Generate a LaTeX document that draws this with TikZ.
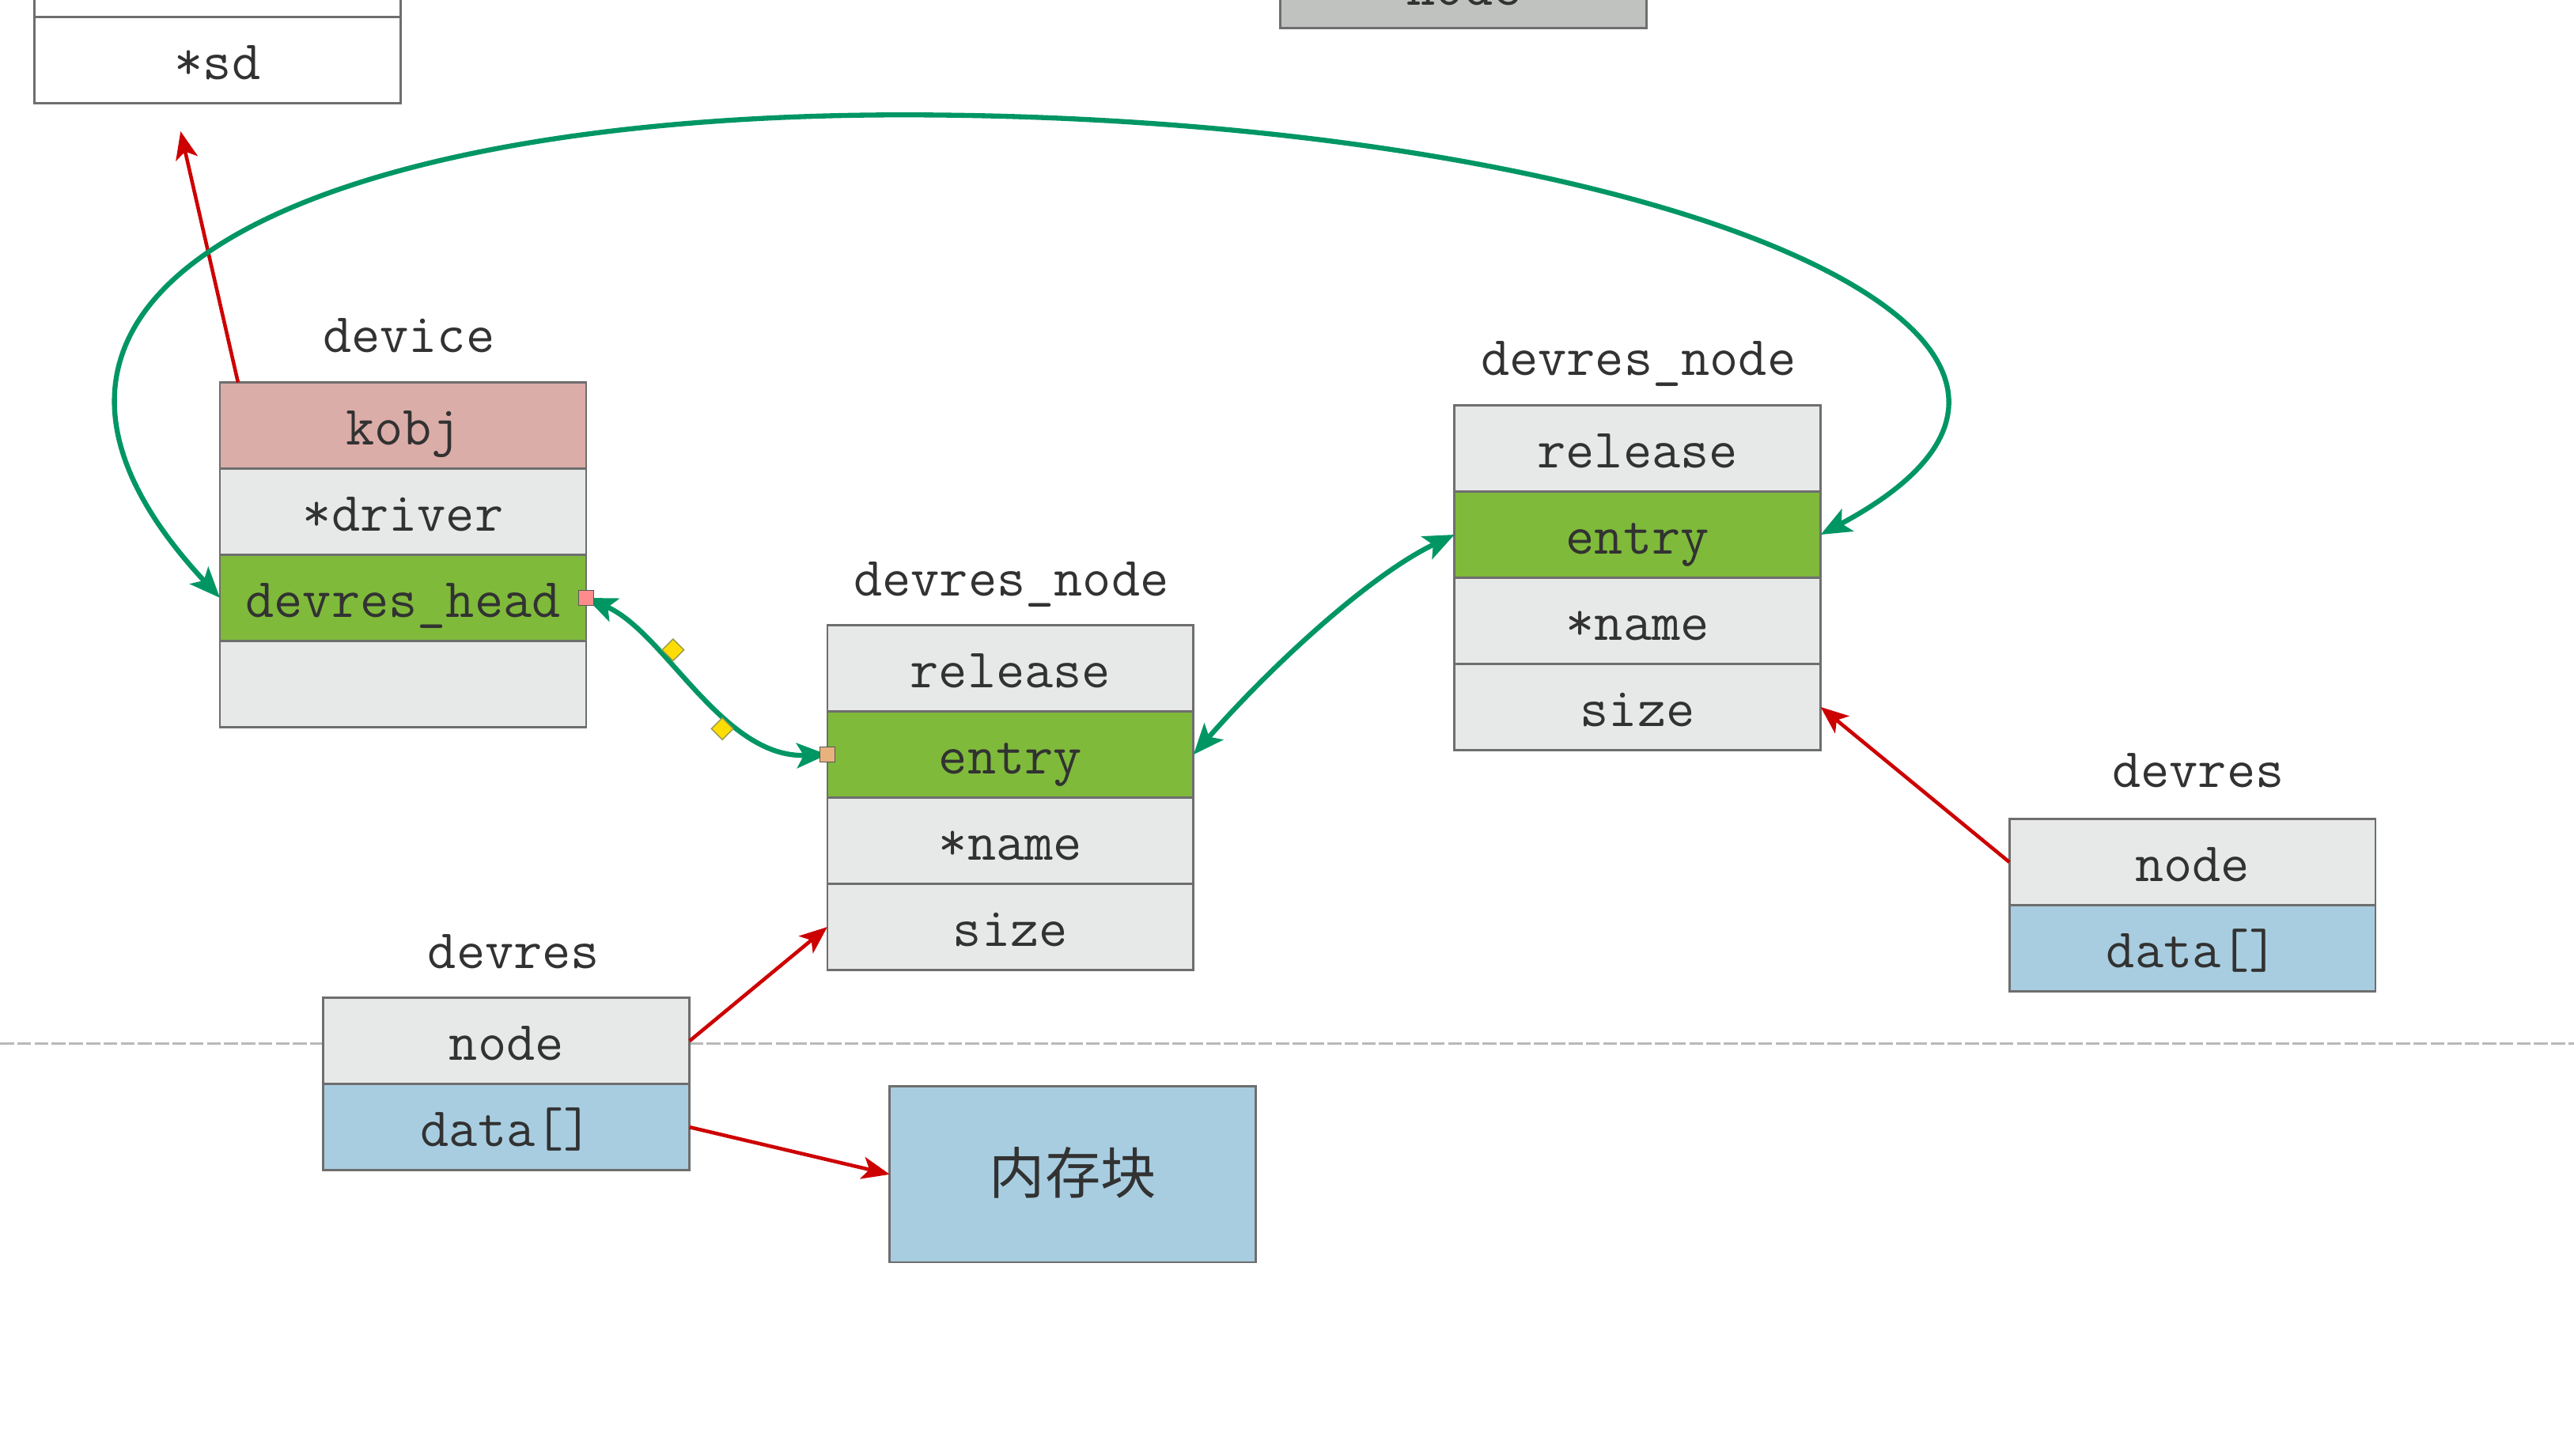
\documentclass[tikz,border=0pt]{standalone}
\usepackage{fontspec}
\newfontfamily\cjkfont{Noto Sans CJK SC}
\usetikzlibrary{arrows.meta,positioning,calc,shapes.geometric}
\definecolor{rowgray}{RGB}{231,232,232}
\definecolor{fldgreen}{RGB}{127,186,59}
\definecolor{fldpink}{RGB}{219,173,168}
\definecolor{fldblue}{RGB}{168,205,224}
\definecolor{bordc}{RGB}{110,110,110}
\definecolor{txtc}{RGB}{50,50,50}
\definecolor{arrgreen}{RGB}{0,150,100}
\definecolor{arrred}{RGB}{205,0,0}
\definecolor{modegray}{RGB}{192,194,191}
\definecolor{dashc}{RGB}{185,185,185}
\begin{document}
\begin{tikzpicture}[x=0.020753cm,y=-0.020753cm,
  fld/.style={draw=bordc, line width=0.8pt, minimum width=131.7pt, minimum height=31pt,
    inner sep=0pt, outer sep=0pt, font=\fontsize{20}{24}\selectfont\ttfamily, text=txtc,
    text height=14pt, text depth=0pt, fill=rowgray},
  lbl/.style={inner sep=0pt, font=\fontsize{20}{24}\selectfont\ttfamily, text=txtc,
    text height=14pt, text depth=0pt},
  redarr/.style={draw=arrred, line width=1.3pt, -{Stealth[length=10pt,width=8pt,inset=2.5pt]}},
  grnarr/.style={draw=arrgreen, line width=1.8pt, {Stealth[length=11pt,width=9pt,inset=2.5pt]}-{Stealth[length=11pt,width=9pt,inset=2.5pt]}},
  handle/.style={draw=bordc!80!black, line width=0.4pt, minimum size=5.5pt, inner sep=0pt},
  diam/.style={draw=bordc!70!yellow, fill=yellow!80!orange, line width=0.4pt, diamond, minimum size=8pt, inner sep=0pt}
]
\fill[white] (0,0) rectangle (1568,887);
\useasboundingbox (0,0) rectangle (1568,887);

% dashed separator
\draw[dashc, line width=0.8pt, dash pattern=on 5pt off 1.2pt] (0,636) -- (1568,636);

% top-left struct (cut off)
\node[fld, fill=white, anchor=north west] (sdtop) at (21,-42) {};
\node[fld, fill=white, below=0pt of sdtop] (sd) {*sd};

% top centre box (cut off)
\node[fld, fill=modegray, anchor=south west, minimum height=60pt] (mode) at (780,17) {};
\node[lbl, anchor=base] (modetxt) at (892,3) {node};

% device
\node[lbl] (devlbl) at (249,203) {device};
\node[fld, fill=fldpink, anchor=north west] (kobj) at (134,233) {kobj};
\node[fld, below=0pt of kobj] (drv) {*driver};
\node[fld, fill=fldgreen, below=0pt of drv] (dh) {devres\_head};
\node[fld, below=0pt of dh] (dempty) {};

% devres_node 1
\node[lbl] (dn1lbl) at (616,351) {devres\_node};
\node[fld, anchor=north west] (rel1) at (504,381) {release};
\node[fld, fill=fldgreen, below=0pt of rel1] (ent1) {entry};
\node[fld, below=0pt of ent1] (nam1) {*name};
\node[fld, below=0pt of nam1] (siz1) {size};

% devres_node 2
\node[lbl] (dn2lbl) at (998,217) {devres\_node};
\node[fld, anchor=north west] (rel2) at (886,247) {release};
\node[fld, fill=fldgreen, below=0pt of rel2] (ent2) {entry};
\node[fld, below=0pt of ent2] (nam2) {*name};
\node[fld, below=0pt of nam2] (siz2) {size};

% devres right
\node[lbl] (drlbl) at (1339,468) {devres};
\node[fld, anchor=north west] (rnode) at (1224,499) {node};
\node[fld, fill=fldblue, below=0pt of rnode] (rdata) {data[]};

% devres left
\node[lbl] (dllbl) at (313,578) {devres};
\node[fld, anchor=north west] (lnode) at (197,608) {node};
\node[fld, fill=fldblue, below=0pt of lnode] (ldata) {data[]};

% memory block
\node[fld, fill=fldblue, anchor=north west, minimum height=63.2pt, font=\fontsize{20}{24}\selectfont\cjkfont, text height=16pt, text depth=2pt] (mem) at (542,662) {内存块};

% red connectors
\coordinate (sdtip) at (110,80);
\draw[redarr] ($(kobj.north west)+(11,0)$) -- (sdtip);
\draw[redarr] (lnode.east) -- (siz1.west);
\draw[redarr] (ldata.east) -- (mem.west);
\draw[redarr] (rnode.west) -- (siz2.east);

% green connectors
\draw[grnarr] (dh.east) .. controls (405,385) and (440,462) .. (ent1.west);
\draw[grnarr] (ent1.east) .. controls (775,405) and (835,350) .. (ent2.west);
\coordinate (looptop) at (550,70);
\draw[grnarr] (dh.west) .. controls (-45,172) and (200,70) .. (looptop)
  .. controls (1000,70) and (1335,205) .. (ent2.east);

% selection handles (editing artefacts)
\node[handle, fill=red!45] (h1) at (dh.east) {};
\node[handle, fill=orange!40!brown!60!white] (h2) at (ent1.west) {};
\node[diam] (d1) at (410,396) {};
\node[diam] (d2) at (440,444) {};
\end{tikzpicture}
\end{document}
